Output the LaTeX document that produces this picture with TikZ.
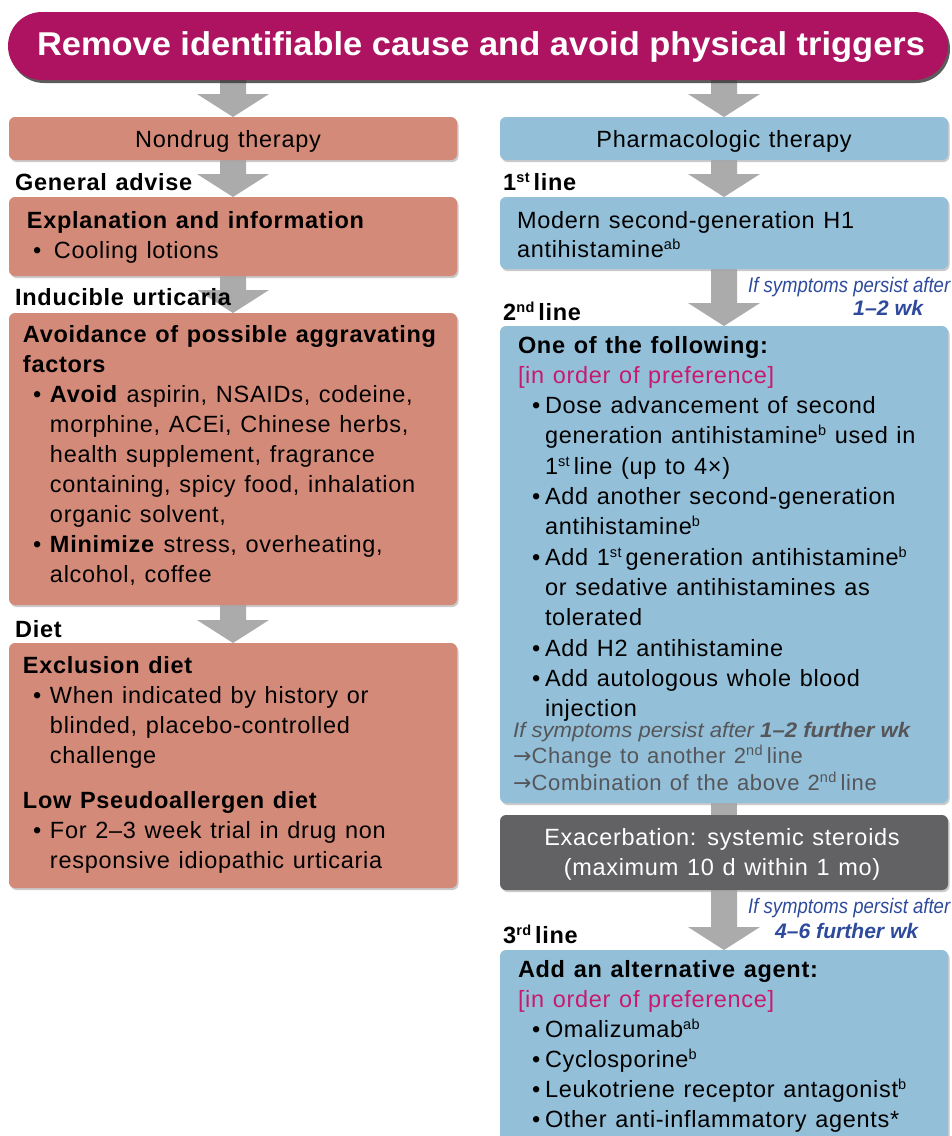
\documentclass[tikz,border=0pt]{standalone}
\usepackage{fontspec}
\usepackage{graphicx}
\setmainfont[LetterSpace=3,WordSpace=1.2]{Liberation Sans}
\newfontfamily\plainfont[Ligatures=TeX]{Liberation Sans}
\newfontfamily\arrowfont{DejaVu Sans}
\usetikzlibrary{shadows,calc}
\definecolor{titlec}{HTML}{AD1360}
\definecolor{salmon}{HTML}{D48A79}
\definecolor{bluec}{HTML}{93BFD8}
\definecolor{darkc}{HTML}{626265}
\definecolor{arrowc}{HTML}{ABABAB}
\definecolor{noteblue}{HTML}{2D4A9C}
\definecolor{pinkc}{HTML}{C8196E}
\definecolor{notegray}{HTML}{55565A}
\newcommand\su[1]{\raisebox{8pt}{\fontsize{14.5}{14.5}\selectfont #1}\hspace{4pt}}
\newcommand\sux[1]{\raisebox{8pt}{\fontsize{14.5}{14.5}\selectfont #1}}
\newcommand\st{\rule{0pt}{21pt}}
\newcommand\bul[1][10pt]{\hspace*{#1}\makebox[\dimexpr27pt-#1\relax][l]{\textbullet}}
\newcommand\ind{\hspace*{27pt}}
\newcommand\rarr{{\arrowfont →}}
\newcommand\barrow[2]{\fill[arrowc] let \p1=(#1), \p2=(#2) in
  (\x2-13pt,\y1) -- (\x2+13pt,\y1) -- (\x2+13pt,\y2+23pt) -- (\x2+36pt,\y2+23pt)
  -- (\x2,\y2) -- (\x2-36pt,\y2+23pt) -- (\x2-13pt,\y2+23pt) -- cycle;}
\pgfdeclarelayer{bg}
\pgfsetlayers{bg,main}
\tikzset{
  box/.style={anchor=north west, inner sep=0pt, outer sep=0pt, rounded corners=6pt,
    drop shadow={shadow xshift=1.5pt, shadow yshift=-2pt, fill=black!35, opacity=0.6}},
  salbox/.style={box, fill=salmon},
  bluebox/.style={box, fill=bluec},
  txt/.style={anchor=north west, inner sep=0pt, outer sep=0pt, align=left,
    font=\fontsize{23.5}{30}\selectfont},
  lbl/.style={anchor=base west, inner sep=0pt, font=\bfseries\fontsize{23.5}{28}\selectfont},
  hdr/.style={anchor=base, inner sep=0pt, font=\fontsize{23.5}{28}\selectfont},
  bnote/.style={anchor=base west, inner sep=0pt, text=noteblue, font=\plainfont\itshape\fontsize{21}{24}\selectfont},
  gnote/.style={anchor=base west, inner sep=0pt, text=notegray, font=\fontsize{22}{26}\selectfont},
}
\begin{document}
\begin{tikzpicture}[x=1pt,y=-1pt]
\useasboundingbox (0,0) rectangle (952,1136);
% title
\node[anchor=north west, inner sep=0pt, outer sep=0pt, fill=titlec, rounded corners=34pt,
  minimum width=940pt, minimum height=68pt,
  drop shadow={shadow xshift=2pt, shadow yshift=-3pt, fill=black!80, opacity=0.8}] (title) at (8,12) {};
\node[anchor=base, inner sep=0pt, text=white, font=\plainfont\bfseries\fontsize{33}{33}\selectfont] (titlet) at (481,55)
  {\resizebox{888pt}{\height}{Remove identifiable cause and avoid physical triggers}};
% left column boxes
\node[salbox, minimum width=448pt, minimum height=43pt] (nd) at (9,117) {};
\node[salbox, minimum width=448pt, minimum height=79pt] (exp) at (9,197) {};
\node[salbox, minimum width=448pt, minimum height=292pt] (avoid) at (9,313) {};
\node[salbox, minimum width=448pt, minimum height=245pt] (excl) at (9,643) {};
% right column boxes
\node[bluebox, minimum width=448pt, minimum height=43pt] (ph) at (500,117) {};
\node[bluebox, minimum width=448pt, minimum height=72pt] (mod) at (500,197) {};
\node[bluebox, minimum width=448pt, minimum height=477pt] (second) at (500,326) {};
\node[box, fill=darkc, minimum width=448pt, minimum height=75pt] (exac) at (500,815) {};
\node[bluebox, minimum width=448pt, minimum height=220pt] (third) at (500,950) {};
% arrows
\begin{pgfonlayer}{bg}
\barrow{title.south}{nd.north}
\barrow{title.south}{ph.north}
\barrow{nd.south}{exp.north}
\barrow{exp.south}{avoid.north}
\barrow{avoid.south}{excl.north}
\barrow{ph.south}{mod.north}
\barrow{mod.south}{second.north}
\fill[arrowc] let \p1=(second.south), \p2=(exac.north) in (\x2-13pt,\y1) rectangle (\x2+13pt,\y2);
\barrow{exac.south}{third.north}
\end{pgfonlayer}
% left texts
\node[hdr] (ndt) at (228,147) {Nondrug therapy};
\node[lbl] (lga) at (15,190) {General advise};
\node[txt] (expt) at (27,207) {\st\textbf{Explanation and information}\\
  \bul[6pt]Cooling lotions};
\node[lbl] (liu) at (15,305) {Inducible urticaria};
\node[txt] (avt) at (23,321) {\st\textbf{Avoidance of possible aggravating}\\
  \textbf{factors}\\
  \bul\textbf{Avoid} aspirin, NSAIDs, codeine,\\
  \ind morphine, ACEi, Chinese herbs,\\
  \ind health supplement, fragrance\\
  \ind containing, spicy food, inhalation\\
  \ind organic solvent,\\
  \bul\textbf{Minimize} stress, overheating,\\
  \ind alcohol, coffee};
\node[lbl] (ldiet) at (15,637) {Diet};
\node[txt] (exct) at (23,652) {\st\textbf{Exclusion diet}\\
  \bul When indicated by history or\\
  \ind blinded, placebo-controlled\\
  \ind challenge};
\node[txt] (lowt) at (23,787) {\st\textbf{Low Pseudoallergen diet}\\
  \bul For 2–3 week trial in drug non\\
  \ind responsive idiopathic urticaria};
% right texts
\node[hdr] (pht) at (724,147) {Pharmacologic therapy};
\node[lbl] (l1) at (503,190) {1\su{st}line};
\node[txt, font=\fontsize{23.5}{29}\selectfont] (modt) at (517,207) {\st Modern second-generation H1\\
  antihistamine\sux{ab}};
\node[bnote] (n1a) at (748,292) {\resizebox{202pt}{\height}{If symptoms persist after}};
\node[bnote, font=\plainfont\bfseries\itshape\fontsize{21}{24}\selectfont] (n1b) at (853,315) {\resizebox{70pt}{\height}{1–2 wk}};
\node[lbl] (l2) at (503,320) {2\su{nd}line};
\node[txt, font=\fontsize{23.5}{30.3}\selectfont] (sect) at (518,332) {\st\textbf{One of the following:}\\
  \textcolor{pinkc}{[in order of preference]}\\
  \bul[14pt]Dose advancement of second\\
  \ind generation antihistamine\sux{b} used in\\
  \ind 1\su{st}line (up to 4×)\\
  \bul[14pt]Add another second-generation\\
  \ind antihistamine\sux{b}\\
  \bul[14pt]Add 1\su{st}generation antihistamine\sux{b}\\
  \ind or sedative antihistamines as\\
  \ind tolerated\\
  \bul[14pt]Add H2 antihistamine\\
  \bul[14pt]Add autologous whole blood\\
  \ind injection};
\node[gnote, font=\plainfont\itshape\fontsize{21}{24}\selectfont] (g1) at (513,737)
  {\resizebox{397pt}{\height}{If symptoms persist after \textbf{1–2 further wk}}};
\node[gnote] (g2) at (513,763) {\rarr Change to another 2\su{nd}line};
\node[gnote] (g3) at (513,790) {\rarr Combination of the above 2\su{nd}line};
\node[anchor=north, inner sep=0pt, align=center, text=white, font=\fontsize{23.5}{30}\selectfont] (exact) at (722,824)
  {\st Exacerbation: systemic steroids\\(maximum 10 d within 1 mo)};
\node[bnote] (n2a) at (748,913) {\resizebox{202pt}{\height}{If symptoms persist after}};
\node[bnote, font=\plainfont\bfseries\itshape\fontsize{21}{24}\selectfont] (n2b) at (775,938) {\resizebox{143pt}{\height}{4–6 further wk}};
\node[lbl] (l3) at (503,943) {3\su{rd}line};
\node[txt] (thirdt) at (518,956) {\st\textbf{Add an alternative agent:}\\
  \textcolor{pinkc}{[in order of preference]}\\
  \bul[14pt]Omalizumab\sux{ab}\\
  \bul[14pt]Cyclosporine\sux{b}\\
  \bul[14pt]Leukotriene receptor antagonist\sux{b}\\
  \bul[14pt]Other anti-inflammatory agents*};
\end{tikzpicture}
\end{document}
